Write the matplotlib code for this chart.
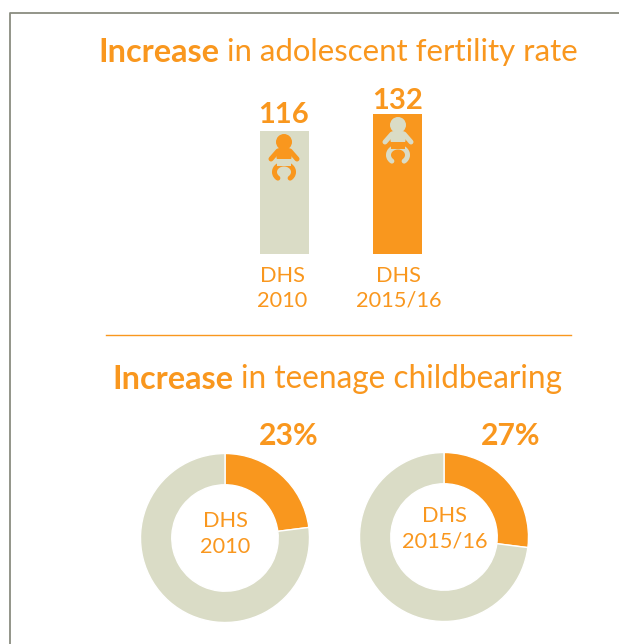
import matplotlib
matplotlib.use("Agg")
import matplotlib.pyplot as plt
from matplotlib.patches import Circle, FancyBboxPatch, Rectangle, Arc

plt.rcParams['font.family'] = ['Lato', 'Open Sans', 'DejaVu Sans']

W, H = 619, 644
ORANGE = '#F9971E'
GREY = '#DADCC6'

# data
bar_labels = ['DHS\n2010', 'DHS\n2015/16']
bar_values = [116, 132]
donut_labels = ['DHS\n2010', 'DHS\n2015/16']
donut_values = [23, 27]

fig = plt.figure(figsize=(W / 100, H / 100), dpi=100)

# full page axes in pixels, y pointing down
page = fig.add_axes([0, 0, 1, 1])
page.set_xlim(0, W)
page.set_ylim(H, 0)
page.axis('off')


def ax_from_px(x0, y0, x1, y1):
    return fig.add_axes([x0 / W, 1 - y1 / H, (x1 - x0) / W, (y1 - y0) / H])


# frame and divider
page.plot([9.5, 9.5, W], [H, 12.5, 12.5], color='#8A8C80', lw=1.3)
page.plot([106, 571], [335, 335], color=ORANGE, lw=1)


def mixed_title(x, y, bold, rest, rest_size):
    t = page.text(x, y, bold, color=ORANGE, fontsize=23.3, fontweight='bold', va='center', ha='left')
    fig.canvas.draw()
    box = t.get_window_extent()
    page.text(box.x1 + 8, y, rest, color=ORANGE, fontsize=rest_size, fontweight='normal', va='center', ha='left')


mixed_title(98, 52, 'Increase', 'in adolescent fertility rate', 22.4)
mixed_title(112, 379, 'Increase', 'in teenage childbearing', 22.7)

# bars
bar_ax = ax_from_px(240, 60, 440, 254)
bar_ax.bar([0, 1], bar_values, width=0.43, color=[GREY, ORANGE])
bar_ax.set_xlim(-0.39, 1.375)
bar_ax.set_ylim(0, 194 / 1.06)
bar_ax.axis('off')
value_lift = [2, 0]
label_shift = [-1.5, 1]
for i, v in enumerate(bar_values):
    bar_ax.annotate(str(v), (i, v), xytext=(-0.7 * (i == 0), value_lift[i]), textcoords='offset points',
                    ha='center', va='bottom', color=ORANGE, fontsize=21, fontweight='bold')
    bar_ax.annotate(bar_labels[i], (i, 0), xytext=(label_shift[i], -8.5), textcoords='offset points',
                    ha='center', va='top', color=ORANGE, fontsize=15.7, fontweight='normal',
                    linespacing=1.32, annotation_clip=False)


def baby(cx, cy, fg, bg):
    # cx, cy is the centre of the head
    page.add_patch(Circle((cx, cy), 8, fc=fg, ec='none', zorder=5))
    page.add_patch(FancyBboxPatch((cx - 7.5, cy + 6), 15, 13, boxstyle='round,pad=0,rounding_size=4',
                                  fc=fg, ec='none', zorder=5))
    # arms
    page.plot([cx - 6, cx - 13], [cy + 9, cy + 17], color=fg, lw=3.6, solid_capstyle='round', zorder=5)
    page.plot([cx + 6, cx + 13], [cy + 9, cy + 17], color=fg, lw=3.6, solid_capstyle='round', zorder=5)
    # legs, open at the bottom (y is flipped here so 90 deg is down)
    page.add_patch(Arc((cx, cy + 30), 19, 16, theta1=135, theta2=45, ec=fg, lw=3.6, zorder=5, capstyle='round'))
    # nappy
    page.add_patch(Rectangle((cx - 7, cy + 17), 14, 7, fc=bg, ec='none', zorder=6))


page.set_zorder(3)
page.patch.set_alpha(0)
baby(284, 142, ORANGE, GREY)
baby(398, 125, GREY, ORANGE)

# donuts
centres = [(225, 538), (444, 537)]
label_y = [534, 528.5]
pct_x = [288.5, 510.5]
R = 84.5
for (cx, cy), val, lab, px, ly in zip(centres, donut_values, donut_labels, pct_x, label_y):
    ax = ax_from_px(cx - R, cy - R, cx + R, cy + R)
    ax.pie([val, 100 - val], colors=[ORANGE, GREY], startangle=90, counterclock=False, radius=1,
           wedgeprops=dict(width=0.37, edgecolor='white', linewidth=1))
    ax.set_xlim(-1, 1)
    ax.set_ylim(-1, 1)
    page.text(cx + 0.5, ly, lab, color=ORANGE, fontsize=15.7, fontweight='normal', ha='center',
              va='center', linespacing=1.32)
    page.text(px, 436, f'{val}%', color=ORANGE, fontsize=21.7, fontweight='bold', ha='center', va='center')

fig.savefig('out.png', dpi=100)
